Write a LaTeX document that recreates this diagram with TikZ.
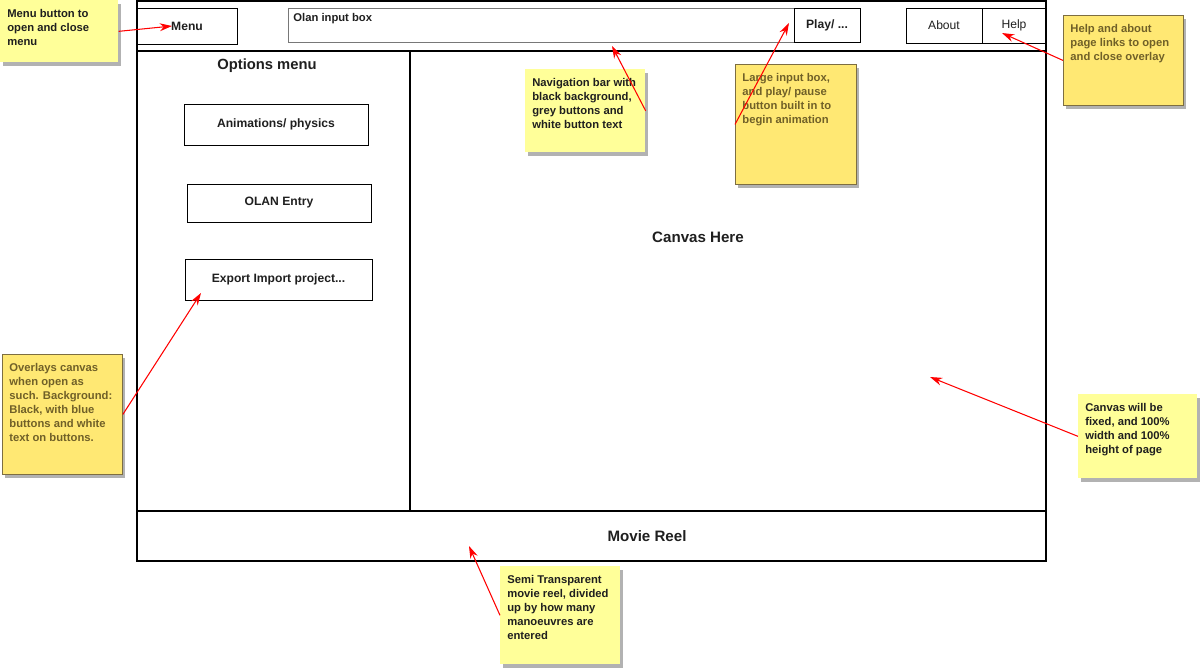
\documentclass[tikz,border=0pt]{standalone}
\usepackage{fontspec}
\setmainfont{Liberation Sans}
\usepackage{xcolor}
\usetikzlibrary{arrows.meta,shapes,calc,positioning,shadows}
\definecolor{notelight}{RGB}{255,255,153}
\definecolor{notedark}{RGB}{255,232,115}
\definecolor{noteedge}{RGB}{125,110,65}
\definecolor{notetext}{RGB}{112,96,40}
\definecolor{inputgrey}{RGB}{120,120,120}
\newcommand{\notebox}[3]{\parbox[c][#2][t]{#1}{\raggedright #3}}

\begin{document}
\begin{tikzpicture}[x=0.02cm,y=-0.02cm]
			\tikzstyle{every node}=[font=\fontsize{6.4}{7.95}\selectfont\bfseries, text=black!88]
			\tikzstyle{frame}=[line width=1.15pt]
			\tikzstyle{button}=[draw, line width=0.45pt, font=\fontsize{6.9}{8}\selectfont\bfseries]
			\tikzstyle{heading}=[font=\fontsize{8.6}{10}\selectfont\bfseries]
			\tikzstyle{lightnote}=[fill=notelight, anchor=north west, inner xsep=0.14cm, inner ysep=0.18cm, drop shadow={shadow xshift=1.5pt, shadow yshift=-2pt, fill=black, opacity=0.3}]
			\tikzstyle{darknote}=[lightnote, fill=notedark, draw=noteedge, line width=0.5pt, text=notetext]
			\tikzstyle{pointer}=[red, line width=0.6pt, -{Stealth[length=7pt, width=4.5pt]}]
			\useasboundingbox (0,0) rectangle (1201,667);
			% page frame
			\draw [frame] (137,1) rectangle (1046,561);
			\draw [frame] (137,51) -- (1046,51);
			\draw [frame] (410,51) -- (410,511);
			\draw [frame] (137,511) -- (1046,511);
			% navigation bar
			\node [button, minimum width=2cm, minimum height=0.72cm] (menu) at (187,26) {Menu};
			\node [draw=inputgrey, line width=0.45pt, anchor=north west, inner sep=0.1cm] (olan) at (288,8) {\notebox{9.92cm}{0.48cm}{Olan input box}};
			\node [button, minimum width=1.32cm, minimum height=0.68cm] (play) at (827,25) {Play/ ...};
			\node [button, minimum width=1.52cm, minimum height=0.7cm, font=\fontsize{6.9}{8}\selectfont\mdseries] (about) at (944,25.5) {About};
			\node [button, minimum width=1.28cm, minimum height=0.7cm, font=\fontsize{6.9}{8}\selectfont\mdseries] (help) at (1014,25.5) {Help};
			% options menu
			\node [heading, font=\fontsize{8.4}{10}\selectfont\bfseries] (options) at (267,66) {Options menu};
			\node [button, minimum width=3.68cm, minimum height=0.82cm] (anim) at (276,124.5) {Animations/ physics};
			\node [button, minimum width=3.68cm, minimum height=0.76cm] (entry) at (279,203) {OLAN Entry};
			\node [button, minimum width=3.74cm, minimum height=0.82cm] (export) at (278.5,279.5) {Export Import project...};
			% canvas and reel
			\node [heading] (canvas) at (698,237) {Canvas Here};
			\node [heading] (reel) at (647,536) {Movie Reel};
			% sticky notes
			\node [lightnote] (menunote) at (0,0) {\notebox{2.08cm}{0.88cm}{Menu button to\\ open and close\\ menu}};
			\node [lightnote] (navnote) at (525,69) {\notebox{2.12cm}{1.30cm}{Navigation bar with\\ black background,\\ grey buttons and\\ white button text}};
			\node [darknote] (inputnote) at (735,64) {\notebox{2.14cm}{2.04cm}{Large input box,\\ and play/ pause\\ button built in to\\ begin animation}};
			\node [darknote] (helpnote) at (1063,15) {\notebox{2.12cm}{1.44cm}{Help and about\\ page links to open\\ and close overlay}};
			\node [darknote] (overlaynote) at (2,354) {\notebox{2.12cm}{2.04cm}{Overlays canvas\\ when open as\\ such. Background:\\ Black, with blue\\ buttons and white\\ text on buttons.}};
			\node [lightnote] (canvasnote) at (1078,394) {\notebox{2.10cm}{1.32cm}{Canvas will be\\ fixed, and 100\%\\ width and 100\%\\ height of page}};
			\node [lightnote] (reelnote) at (500,566) {\notebox{2.12cm}{1.60cm}{Semi Transparent\\ movie reel, divided\\ up by how many\\ manoeuvres are\\ entered}};
			% pointers
			\coordinate (menutip) at (172,26);
			\coordinate (navtip) at (612,46);
			\coordinate (playtip) at (789,23);
			\coordinate (helptip) at (1002,33);
			\coordinate (exporttip) at (201,293);
			\coordinate (canvastip) at (930,377);
			\coordinate (reeltip) at (469,546);
			\draw [pointer] (menunote.east) -- (menutip);
			\draw [pointer] (navnote.east) -- (navtip);
			\draw [pointer] (inputnote.west) -- (playtip);
			\draw [pointer] (helpnote.west) -- (helptip);
			\draw [pointer] (overlaynote.east) -- (exporttip);
			\draw [pointer] (canvasnote.west) -- (canvastip);
			\draw [pointer] (reelnote.west) -- (reeltip);
		\end{tikzpicture}
\end{document}
